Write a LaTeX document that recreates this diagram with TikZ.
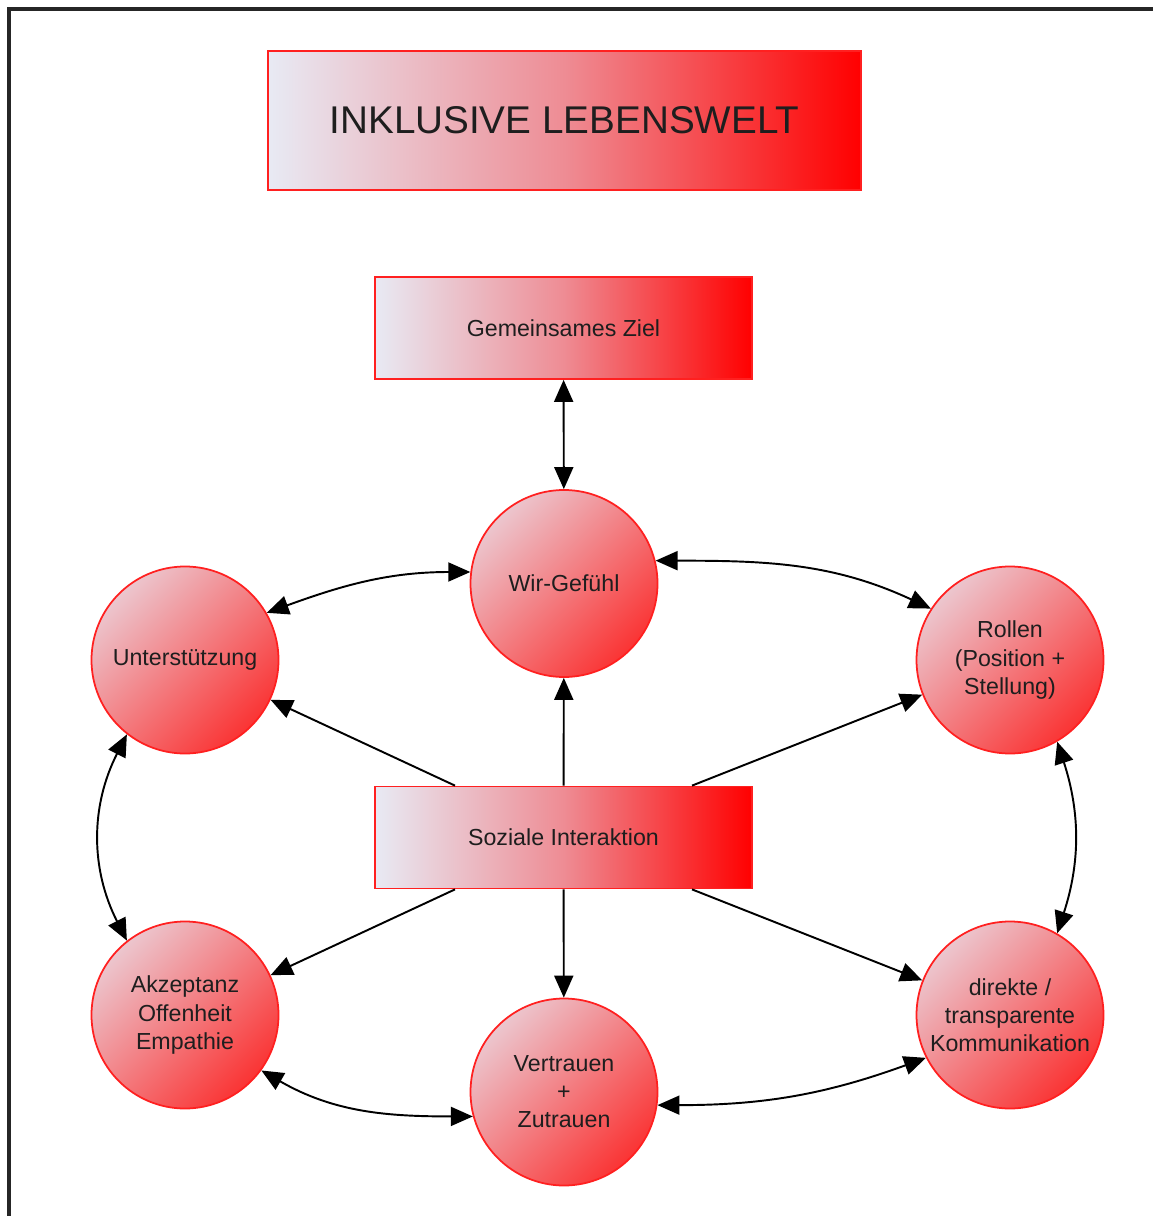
\documentclass[tikz,border=0pt]{standalone}
\usepackage{fontspec}
\setmainfont{Liberation Sans}
\usepackage{tikz}
\usetikzlibrary{arrows.meta}
\definecolor{hell}{RGB}{232,234,244}
\definecolor{rosa}{RGB}{238,140,148}
\definecolor{kreishell}{RGB}{236,198,206}
\definecolor{kreisrot}{RGB}{250,52,52}
\definecolor{rand}{RGB}{255,32,32}
\definecolor{schrift}{RGB}{30,30,30}
\tikzset{
	kasten/.style={draw=rand,line width=0.5pt,left color=hell,right color=red,middle color=rosa,minimum width=3.77cm,minimum height=1.02cm,inner sep=0pt,text=schrift,font=\fontsize{6.6}{8}\selectfont},
	kreis/.style={circle,draw=rand,line width=0.5pt,top color=kreishell,bottom color=kreisrot,shading angle=45,minimum size=1.87cm,inner sep=0pt,align=center,text=schrift,font=\fontsize{6.6}{8}\selectfont},
	pfeil/.style={line width=0.55pt,>={Triangle[length=0.22cm,width=0.19cm]}}
}

\begin{document}
\begin{tikzpicture}
	    \useasboundingbox (0,0) rectangle (11.53,-12.16);
	    \draw[line width=1pt,black!85] (0.09,-12.16) -- (0.09,-0.09) -- (11.53,-0.09);
	    \node[kasten,minimum width=5.93cm,minimum height=1.39cm,font=\fontsize{11}{13}\selectfont] (titel) at (5.645,-1.205) {INKLUSIVE LEBENSWELT};
	    \node[kasten] (ziel) at (5.635,-3.28) {Gemeinsames Ziel};
	    \node[kasten] (soz) at (5.635,-8.375) {Soziale Interaktion};
	    \node[kreis] (wir) at (5.64,-5.835) {Wir-Gefühl};
	    \node[kreis] (unter) at (1.85,-6.6) {Unterstützung};
	    \node[kreis] (rollen) at (10.1,-6.6) {Rollen\\(Position +\\Stellung)};
	    \node[kreis] (akz) at (1.85,-10.15) {Akzeptanz\\Offenheit\\Empathie};
	    \node[kreis] (vert) at (5.64,-10.92) {Vertrauen\\+\\Zutrauen};
	    \node[kreis] (direkt) at (10.1,-10.15) {direkte /\\transparente\\Kommunikation};
	    \draw[pfeil,<->] (ziel) -- (wir);
	    \draw[pfeil,->] (soz) -- (wir);
	    \draw[pfeil,->] (soz) -- (vert);
	    \draw[pfeil,->] ([xshift=-1.085cm]soz.north) -- (unter);
	    \draw[pfeil,->] ([xshift=1.285cm]soz.north) -- (rollen);
	    \draw[pfeil,->] ([xshift=-1.085cm]soz.south) -- (akz);
	    \draw[pfeil,->] ([xshift=1.285cm]soz.south) -- (direkt);
	    \draw[pfeil,<->] (unter.30) to[out=20,in=180] (wir.173);
	    \draw[pfeil,<->] (wir.14) to[out=0,in=155] (rollen.147);
	    \draw[pfeil,<->] (unter.232) to[out=243,in=117] (akz.128);
	    \draw[pfeil,<->] (rollen.300) to[out=288,in=72] (direkt.60);
	    \draw[pfeil,<->] (akz.324) to[out=-30,in=180] (vert.195);
	    \draw[pfeil,<->] (vert.352) to[out=0,in=200] (direkt.207);
	\end{tikzpicture}
\end{document}
